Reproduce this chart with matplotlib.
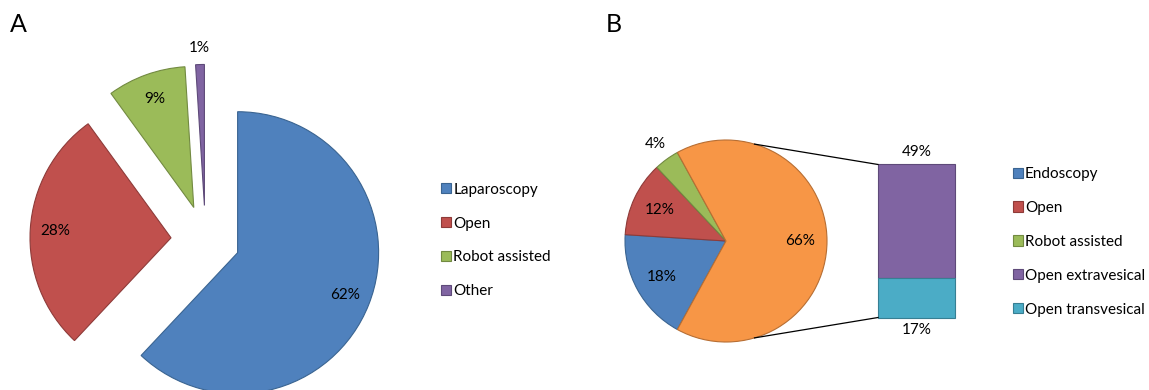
import matplotlib
matplotlib.use("Agg")
import matplotlib.pyplot as plt
from matplotlib.patches import Patch
import numpy as np

plt.rcParams['font.family'] = ['Lato', 'DejaVu Sans']

# Panel A: surgical approach
labels_a = ["Laparoscopy", "Open", "Robot assisted", "Other"]
values_a = [62, 28, 9, 1]

# Panel B: approach, with the open group split in a bar
labels_b = ["Endoscopy", "Open", "Robot assisted"]
values_b = [18, 12, 4, 66]           # last entry is the split group
labels_b_split = ["Open extravesical", "Open transvesical"]
values_b_split = [49, 17]

fill = {"blue": "#4F81BD", "red": "#C0504D", "green": "#9BBB59",
        "purple": "#8064A2", "aqua": "#4BACC6", "orange": "#F79646"}
edge = {"blue": "#3A6491", "red": "#8E3B39", "green": "#728A41",
        "purple": "#5E4A79", "aqua": "#377F93", "orange": "#B76E33"}

cols_a = ["blue", "red", "green", "purple"]
cols_b = ["blue", "red", "green", "orange"]
cols_split = ["purple", "aqua"]

W, H = 1149, 390
fig = plt.figure(figsize=(W / 100, H / 100), dpi=100)

FS = 11
LEG_FS = 11


def panel_axes(cx, cy, r):
    """Axes spanning the figure, unit = pie radius, origin at pie centre (pixel coords, y down)."""
    ax = fig.add_axes([0, 0, 1, 1])
    ax.patch.set_visible(False)
    return ax, (cx, cy, r)


def lims(ax, geo):
    cx, cy, r = geo
    ax.set_xlim(-cx / r, (W - cx) / r)
    ax.set_ylim(-(H - cy) / r, cy / r)
    ax.set_aspect('auto')
    ax.axis('off')


legend_kw = dict(bbox_transform=fig.transFigure, frameon=False, fontsize=LEG_FS,
                 handlelength=0.66, handleheight=0.66, handletextpad=0.15,
                 labelspacing=1.3, borderpad=0, borderaxespad=0, loc="center left")

# ---------------- Panel A ----------------
ax_a, geo_a = panel_axes(205.5, 240, 141)
wedges_a, _, auto_a = ax_a.pie(
    values_a, colors=[fill[c] for c in cols_a], explode=[0.245] * 4,
    startangle=90, counterclock=False, radius=1.0,
    autopct=lambda p: f"{p:.0f}%", pctdistance=0.82,
    wedgeprops=dict(linewidth=0.8), textprops=dict(fontsize=FS, color="black"))
for w, c in zip(wedges_a, cols_a):
    w.set_edgecolor(edge[c])
# small slice label sits outside its wedge
w, t = wedges_a[3], auto_a[3]
tm = np.deg2rad(0.5 * (w.theta1 + w.theta2))
t.set_position((w.center[0] + 1.12 * np.cos(tm), w.center[1] + 1.12 * np.sin(tm)))
lims(ax_a, geo_a)

ax_a.legend(handles=[Patch(facecolor=fill[c], edgecolor=edge[c], linewidth=0.8, label=l)
                     for c, l in zip(cols_a, labels_a)],
            bbox_to_anchor=(441 / W, 1 - 240.5 / H), **legend_kw)

# ---------------- Panel B ----------------
ax_b, geo_b = panel_axes(726, 241, 101)
wedges_b, _, auto_b = ax_b.pie(
    values_b, colors=[fill[c] for c in cols_b],
    startangle=360 * (values_b[3] / 2 + sum(values_b[:3])) / 100, counterclock=False,
    radius=1.0, autopct=lambda p: f"{p:.0f}%", pctdistance=0.73,
    wedgeprops=dict(linewidth=0.8), textprops=dict(fontsize=FS, color="black"))
for w, c in zip(wedges_b, cols_b):
    w.set_edgecolor(edge[c])
w, t = wedges_b[2], auto_b[2]
tm = np.deg2rad(0.5 * (w.theta1 + w.theta2))
t.set_position((1.19 * np.cos(tm), 1.19 * np.sin(tm)))

# stacked bar for the split group
bar_x, bar_w, bar_h = 1.886, 0.762, 1.515
total_split = sum(values_b_split)
bottom = bar_h / 2
for v, c in zip(values_b_split, cols_split):
    h = bar_h * v / total_split
    bottom -= h
    ax_b.bar(bar_x, h, width=bar_w, bottom=bottom, color=fill[c],
             edgecolor=edge[c], linewidth=0.8)
ax_b.text(bar_x, bar_h / 2 + 0.12, f"{values_b_split[0]}%", ha="center", va="center", fontsize=FS)
ax_b.text(bar_x, -bar_h / 2 - 0.12, f"{values_b_split[1]}%", ha="center", va="center", fontsize=FS)

# connector lines from the pie to the bar corners
ang = np.deg2rad(73.6)
for s in (1, -1):
    ax_b.plot([np.cos(ang), bar_x - bar_w / 2], [s * np.sin(ang), s * bar_h / 2],
              color="black", linewidth=0.9)
lims(ax_b, geo_b)

ax_b.legend(handles=[Patch(facecolor=fill[c], edgecolor=edge[c], linewidth=0.8, label=l)
                     for c, l in zip(cols_b[:3] + cols_split, labels_b + labels_b_split)],
            bbox_to_anchor=(1012.7 / W, 1 - 241.8 / H), **legend_kw)

fig.text(18 / W, 1 - 25 / H, "A", fontsize=18, ha="center", va="center")
fig.text(614 / W, 1 - 25 / H, "B", fontsize=18, ha="center", va="center")

fig.savefig("out.png", dpi=100)
